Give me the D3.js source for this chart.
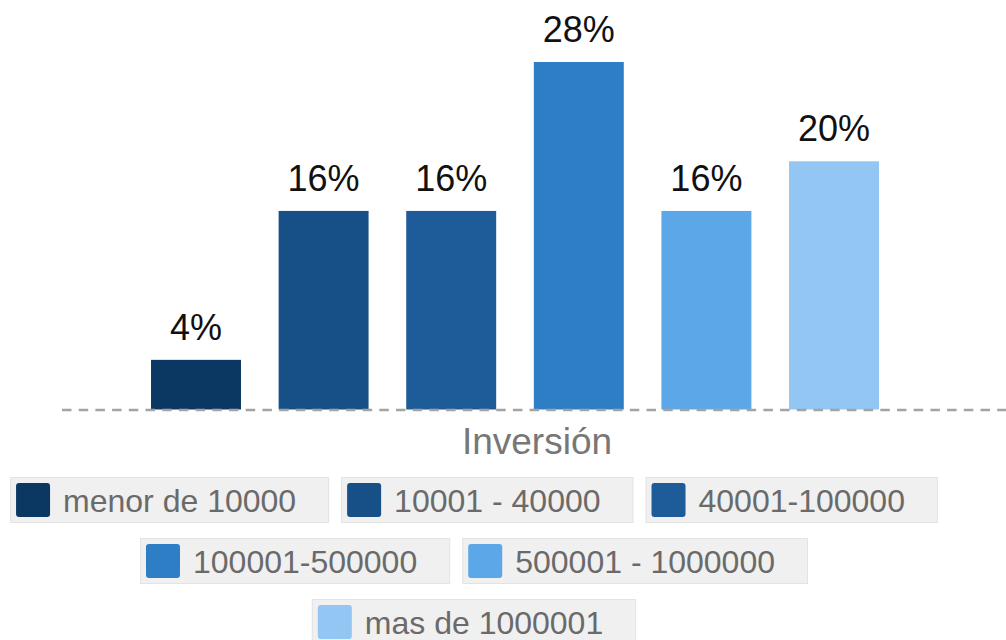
<!DOCTYPE html>
<html>
<head>
<meta charset="utf-8">
<script src="https://cdn.jsdelivr.net/npm/d3@7"></script>
<style>
  html, body { margin: 0; padding: 0; background: #fff; }
  svg { display: block; font-family: "Liberation Sans", Arial, sans-serif; }
</style>
</head>
<body>
<svg id="chart" width="1006" height="640"></svg>
<script>
// Investment ranges and share of respondents in each
const categories = ["menor de 10000", "10001 - 40000", "40001-100000", "100001-500000", "500001 - 1000000", "mas de 1000001"];
const values = [4, 16, 16, 28, 16, 20];
const colors = ["#0b3862", "#175087", "#1d5c98", "#2e7ec6", "#5ba7e7", "#93c6f3"];
const axisTitle = "Inversión";

const W = 1006, H = 640;
const svg = d3.select("#chart");

const baseY = 409.5;
const x = d3.scaleBand()
  .domain(categories)
  .range([132.2, 897.8])
  .paddingInner(0.295)
  .paddingOuter(0.1475);
const y = d3.scaleLinear().domain([0, 28]).range([baseY, 62]);

// bars
svg.append("g").selectAll("rect")
  .data(categories)
  .join("rect")
  .attr("x", d => x(d))
  .attr("y", (d, i) => y(values[i]))
  .attr("width", x.bandwidth())
  .attr("height", (d, i) => baseY - y(values[i]))
  .attr("fill", (d, i) => colors[i]);

// value labels
svg.append("g").selectAll("text")
  .data(categories)
  .join("text")
  .attr("x", d => x(d) + x.bandwidth() / 2)
  .attr("y", (d, i) => y(values[i]) - 20)
  .attr("text-anchor", "middle")
  .attr("font-size", 36)
  .attr("fill", "#111")
  .text((d, i) => values[i] + "%");

// dashed baseline
svg.append("line")
  .attr("x1", 62).attr("x2", W)
  .attr("y1", baseY + 0.5).attr("y2", baseY + 0.5)
  .attr("stroke", "#a3a3a3")
  .attr("stroke-width", 2.5)
  .attr("stroke-dasharray", "9.5,7.2");

// axis title
svg.append("text")
  .attr("x", 537)
  .attr("y", 454)
  .attr("text-anchor", "middle")
  .attr("font-size", 37)
  .attr("fill", "#777")
  .text(axisTitle);

// legend: items flow into centered rows
const legendFont = 32, pad = 6, sw = 34, gap = 13, rightPad = 33, boxH = 46, itemGap = 12;
const maxRow = 950, rowTop0 = 477, rowStep = 61, centerX = 474;

const measure = svg.append("text").attr("font-size", legendFont).attr("visibility", "hidden");
const items = categories.map((c, i) => {
  measure.text(c);
  const tw = measure.node().getComputedTextLength();
  return { label: c, color: colors[i], w: pad + sw + gap + tw + rightPad };
});
measure.remove();

const rows = [];
let cur = [], curW = 0;
items.forEach(it => {
  const addW = cur.length ? curW + itemGap + it.w : it.w;
  if (cur.length && addW > maxRow) {
    rows.push(cur); cur = [it]; curW = it.w;
  } else {
    cur.push(it); curW = addW;
  }
});
if (cur.length) rows.push(cur);

const legend = svg.append("g");
rows.forEach((row, r) => {
  const rowW = d3.sum(row, d => d.w) + itemGap * (row.length - 1);
  let xx = centerX - rowW / 2;
  const top = rowTop0 + r * rowStep;
  row.forEach(it => {
    const g = legend.append("g").attr("transform", `translate(${xx},${top})`);
    g.append("rect")
      .attr("x", 0.5).attr("y", 0.5)
      .attr("width", it.w - 1).attr("height", boxH - 1)
      .attr("fill", "#f0f0f0")
      .attr("stroke", "#e3e3e3");
    g.append("rect")
      .attr("x", pad).attr("y", (boxH - sw) / 2)
      .attr("width", sw).attr("height", sw)
      .attr("rx", 3)
      .attr("fill", it.color);
    g.append("text")
      .attr("x", pad + sw + gap)
      .attr("y", 35)
      .attr("font-size", legendFont)
      .attr("fill", "#6a6a6a")
      .text(it.label);
    xx += it.w + itemGap;
  });
});
</script>
</body>
</html>
